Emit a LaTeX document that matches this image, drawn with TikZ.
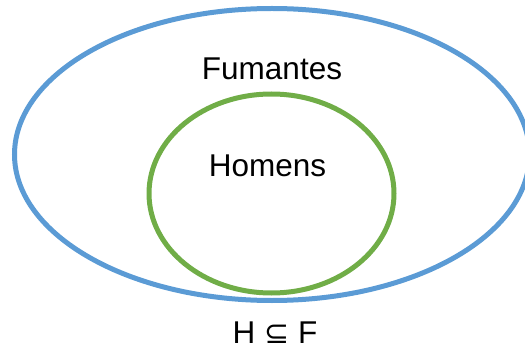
\documentclass[tikz,border=0pt]{standalone}
\usepackage{fontspec}
\setmainfont{Liberation Sans}
\newfontfamily\symfont{DejaVu Sans}
\usetikzlibrary{shapes.geometric}
\definecolor{setblue}{HTML}{5B9BD5}
\definecolor{setgreen}{HTML}{70AD47}
\begin{document}
\begin{tikzpicture}[x=1pt,y=-1pt,
 setshape/.style={ellipse,draw,line width=5pt,inner sep=0pt,outer sep=0pt},
 lbl/.style={anchor=base,font=\fontsize{31.5}{36}\selectfont,inner sep=0pt}]
\useasboundingbox (0,0) rectangle (525,350);
\node[setshape,draw=setblue,minimum width=515pt,minimum height=292pt] (F) at (272,154.5) {};
\node[setshape,draw=setgreen,minimum width=245pt,minimum height=199pt] (H) at (271.5,193.5) {};
\node[lbl] (fl) at (272,79.3) {Fumantes};
\node[lbl] (hl) at (267.5,177) {Homens};
\node[lbl] (rel) at (275,343) {H {\symfont\fontsize{30}{34}\selectfont ⊆} F};
\end{tikzpicture}
\end{document}
